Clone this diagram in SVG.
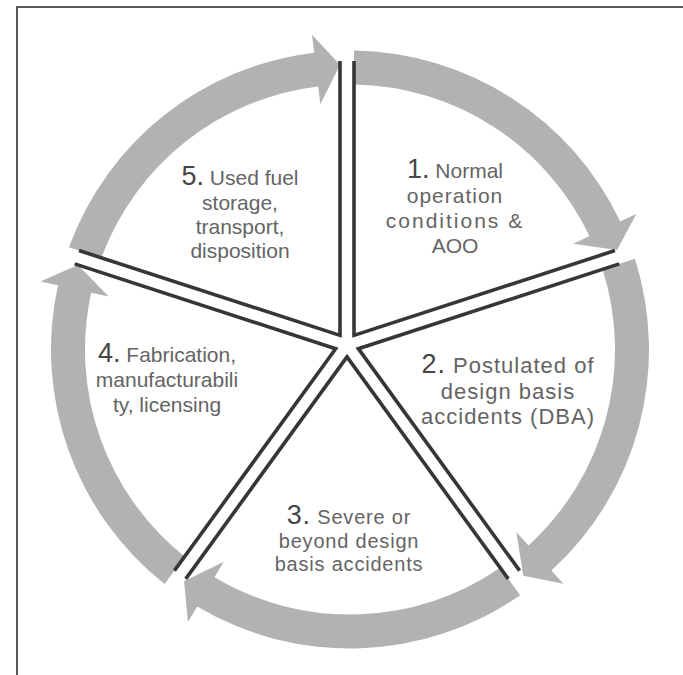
<svg xmlns="http://www.w3.org/2000/svg" xmlns:xlink="http://www.w3.org/1999/xlink" width="683" height="675" viewBox="0 0 683 675">
  <style>
    .frame { fill: none; stroke: #5a5a5a; stroke-width: 2; }
    .arrow { fill: #b2b2b2; }
    .edge { fill: none; stroke: #363636; stroke-width: 3.6; stroke-linejoin: miter; stroke-linecap: butt; }
    .lbl { font-family: "Liberation Sans", Arial, sans-serif; font-size: 21px; fill: #646464; text-anchor: middle; }
    .num { font-size: 27px; fill: #464646; }
    .s2 { font-size: 22px; letter-spacing: 1px; }
    .s3 { font-size: 20px; letter-spacing: 0.8px; }
  </style>
  <defs>
    <!-- the two radial borders of one sector, drawn for the first sector -->
    <path id="sectorEdge" class="edge" d="M 354 61 L 354 335.36 L 614.94 250.58"/>
  </defs>

  <rect width="683" height="675" fill="#ffffff"/>
  <path class="frame" d="M 17 675 V 7 H 683"/>

  <!-- ring of five curved arrows, clockwise, each ending at the next divider -->
  <g id="connectors">
    <path class="arrow" d="M 354 50.53 A 299 299 0 0 1 620.23 221.52 L 636.50 213.81 L 617.03 249.90 L 573.23 243.78 L 589.50 236.07 A 265 265 0 0 0 354 84.53 Z"/>
    <path class="arrow" d="M 634.92 258.81 A 299 299 0 0 1 551.33 570.56 L 563.45 583.87 L 523.30 575.76 L 516.31 532.11 L 528.44 545.42 A 265 265 0 0 0 602.58 269.32 Z"/>
    <path class="arrow" d="M 520.22 595.32 A 299 299 0 0 1 197.16 606.48 L 187.96 621.96 L 184.04 581.20 L 223.74 561.79 L 214.54 577.26 A 265 265 0 0 0 500.23 567.80 Z"/>
    <path class="arrow" d="M 164.63 584.11 A 299 299 0 0 1 57.96 285.34 L 40.38 281.48 L 77.84 264.91 L 108.75 296.50 L 91.17 292.64 A 265 265 0 0 0 184.64 556.58 Z"/>
    <path class="arrow" d="M 69.00 247.31 A 299 299 0 0 1 314.13 52.66 L 311.97 34.79 L 340 64.68 L 320.37 104.28 L 318.21 86.41 A 265 265 0 0 0 101.36 257.83 Z"/>
  </g>

  <g id="step1">
    <use xlink:href="#sectorEdge"/>
    <text class="lbl"><tspan x="455" y="178"><tspan class="num">1.</tspan> Normal</tspan><tspan x="455" y="203" letter-spacing="1">operation</tspan><tspan x="455" y="228" letter-spacing="2">conditions &amp;</tspan><tspan x="455" y="253">AOO</tspan></text>
  </g>
  <g id="step2">
    <use xlink:href="#sectorEdge" transform="rotate(72 347 345)"/>
    <text class="lbl s2"><tspan x="508" y="373"><tspan class="num" font-size="26px">2.</tspan> Postulated of</tspan><tspan x="508" y="399">design basis</tspan><tspan x="508" y="424">accidents (DBA)</tspan></text>
  </g>
  <g id="step3">
    <use xlink:href="#sectorEdge" transform="rotate(144 347 345)"/>
    <text class="lbl s3"><tspan x="349" y="524"><tspan class="num" font-size="26px">3.</tspan> Severe or</tspan><tspan x="349" y="548">beyond design</tspan><tspan x="349" y="571">basis accidents</tspan></text>
  </g>
  <g id="step4">
    <use xlink:href="#sectorEdge" transform="rotate(216 347 345)"/>
    <text class="lbl"><tspan x="167" y="362"><tspan class="num">4.</tspan> Fabrication,</tspan><tspan x="167" y="387">manufacturabili</tspan><tspan x="167" y="412">ty, licensing</tspan></text>
  </g>
  <g id="step5">
    <use xlink:href="#sectorEdge" transform="rotate(288 347 345)"/>
    <text class="lbl"><tspan x="240" y="185"><tspan class="num">5.</tspan> Used fuel</tspan><tspan x="240" y="210">storage,</tspan><tspan x="240" y="234">transport,</tspan><tspan x="240" y="258">disposition</tspan></text>
  </g>
</svg>
